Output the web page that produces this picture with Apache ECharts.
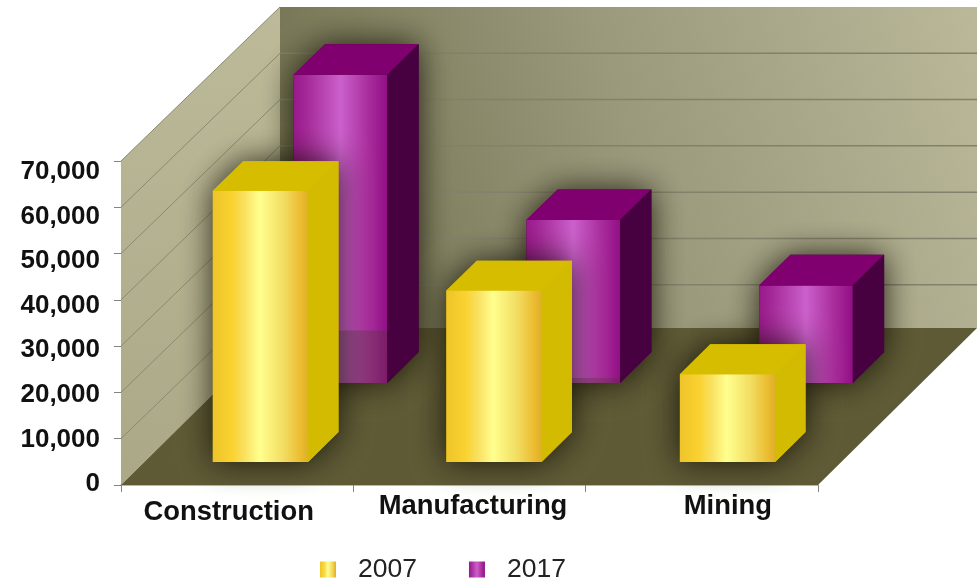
<!DOCTYPE html>
<html><head><meta charset="utf-8">
<style>html,body{margin:0;padding:0;background:#fff}#c{width:978px;height:582px}</style>
<script src="https://cdn.jsdelivr.net/npm/echarts@6/dist/echarts.min.js"></script>
</head><body><div id="c"></div>
<script>
const categories = ['Construction', 'Manufacturing', 'Mining'];
const values2007 = [58700, 37100, 19000];
const values2017 = [67000, 35400, 21200];
const yTicks = [0, 10000, 20000, 30000, 40000, 50000, 60000, 70000];

const DX = 159, DY0 = 157, DY1 = 154, GRID_DY = 154, YMAX = 70000;
const G = echarts.graphic;
const proj = (x, y, v, d) => [x + d * DX, y - d * (DY0 + (DY1 - DY0) * v / YMAX)];
const grad = stops => new G.LinearGradient(0, 0, 1, 0, stops.map(s => ({offset: s[0], color: s[1]})));

const yellowFront = grad([[0,'#eec42a'],[0.2,'#fad230'],[0.33,'#f9e060'],[0.49,'#ffff8e'],[0.75,'#f2dc60'],[0.92,'#ebbc30'],[1,'#dfb028']]);
const purpleFront = grad([[0,'#98198b'],[0.15,'#a52b99'],[0.5,'#cb60cc'],[0.78,'#ab309f'],[1,'#920f85']]);

function poly(points, fill, extra) {
  return {type: 'polygon', shape: {points}, style: Object.assign({fill}, extra || {})};
}

function wallsRender(params, api) {
  const c = params.coordSys, L = c.x, R = c.x + c.width;
  const y0 = api.coord([0, 0])[1], yT = api.coord([0, YMAX])[1];
  const kids = [
    poly([proj(L,y0,0,1), proj(R,y0,0,1), proj(R,yT,YMAX,1), proj(L,yT,YMAX,1)],
      new G.LinearGradient(0, 0.75, 1, 0.05, [{offset:0,color:'#706f4e'},{offset:0.5,color:'#9a997c'},{offset:1,color:'#bab899'}])),
    poly([[L,y0], proj(L,y0,0,1), proj(L,yT,YMAX,1), [L,yT]],
      new G.LinearGradient(0, 0, 0, 1, [{offset:0,color:'#bcba98'},{offset:1,color:'#aaa886'}])),
    poly([[L,y0],[R,y0], proj(R,y0,0,1), proj(L,y0,0,1)], '#5e5a36')
  ];
  yTicks.forEach(v => {
    if (v === 0) return;
    const y = api.coord([0, v])[1];
    const a = [L + DX, y - GRID_DY], b = [R + DX, y - GRID_DY];
    kids.push({type:'polyline', shape:{points:[[L,y],a]}, style:{stroke:'#8b8a70', lineWidth:1, fill:null}});
    if (v !== YMAX) kids.push({type:'polyline', shape:{points:[a,b]}, style:{stroke:'#82816a', lineWidth:1.5, fill:null}});
  });
  return {type:'group', children:kids};
}

function barRender(d0, d1, front, top, side, widthFrac, step, shade) {
  return function (params, api) {
    const i = api.value(0), v = api.value(1);
    const cx = api.coord([i, 0])[0] + i * step, w = api.size([1, 0])[0] * widthFrac;
    const yb = api.coord([i, 0])[1], yt = api.coord([i, v])[1];
    const xl = cx - w / 2, xr = cx + w / 2;
    const fbl = proj(xl,yb,0,d0), fbr = proj(xr,yb,0,d0), ftl = proj(xl,yt,v,d0), ftr = proj(xr,yt,v,d0);
    const bbr = proj(xr,yb,0,d1), btr = proj(xr,yt,v,d1), btl = proj(xl,yt,v,d1);
    const kids = [
      poly([fbl, fbr, bbr, btr, btl, ftl], side, {shadowBlur: 32, shadowColor: 'rgba(15,12,0,0.85)'}),
      poly([fbl, fbr, ftr, ftl], front),
      poly([ftl, ftr, btr, btl], top),
      poly([ftr, fbr, bbr, btr], side)
    ];
    const s = shade ? shade[i] : 0;
    if (s > 0) {
      const ys = api.coord([i, v * s])[1];
      const a = proj(xl,ys,v*s,d0), b = proj(xr,ys,v*s,d0);
      kids.push(poly([fbl, fbr, b, a], 'rgba(70,60,40,0.3)'));
    }
    return {type:'group', children:kids};
  };
}

const labelBase = {fontFamily:'Liberation Sans', fontWeight:'bold', color:'#111'};
const chart = echarts.init(document.getElementById('c'), null, {renderer:'canvas'});
chart.setOption({
  animation:false, backgroundColor:'#fff',
  legend:{
    left:315, top:551, itemWidth:16, itemHeight:16, itemGap:52, icon:'rect',
    textStyle:{fontFamily:'Liberation Sans', fontSize:26.5, color:'#222', padding:[0,0,0,17]},
    data:['2007','2017']
  },
  grid:[
    {left:121, right:160, top:161, bottom:97},
    {left:121, right:160, top:172, bottom:98}
  ],
  xAxis:[
    {type:'category', gridIndex:0, data:[
        {value:categories[0], textStyle:{padding:[6,17,0,0]}},
        {value:categories[1], textStyle:{padding:[0,0,0,7]}},
        {value:categories[2], textStyle:{padding:[0,0,0,52]}}
      ],
      axisLine:{lineStyle:{color:'#a09d90', width:1.5}},
      axisTick:{show:true, length:7, lineStyle:{color:'#85837a'}},
      axisLabel:Object.assign({fontSize:27.4, margin:8, interval:0, hideOverlap:false}, labelBase),
      splitLine:{show:false}
    },
    {type:'category', gridIndex:1, data:categories, show:false}
  ],
  yAxis:[
    {type:'value', gridIndex:0, min:0, max:YMAX, interval:10000,
      axisLine:{show:false}, axisTick:{show:true, length:7, lineStyle:{color:'#85837a'}},
      axisLabel:{show:false}, splitLine:{show:false}},
    {type:'value', gridIndex:1, min:0, max:YMAX, interval:10000,
      axisLine:{show:false}, axisTick:{show:false}, splitLine:{show:false},
      axisLabel:Object.assign({fontSize:26, margin:21, formatter:v => v.toLocaleString('en-US')}, labelBase)}
  ],
  series:[
    {type:'custom', name:'walls', xAxisIndex:0, yAxisIndex:0, z:1, silent:true, clip:false, data:[[0,0]], renderItem:wallsRender},
    {type:'custom', name:'2017', xAxisIndex:0, yAxisIndex:0, z:2, clip:false, itemStyle:{color:purpleFront},
      data:values2017.map((v,i)=>[i,v]), renderItem:barRender(0.65,0.847,purpleFront,'#80006f','#470040',0.403,0.4,[0.17,0.03,0])},
    {type:'custom', name:'2007', xAxisIndex:0, yAxisIndex:0, z:3, clip:false, itemStyle:{color:yellowFront},
      data:values2007.map((v,i)=>[i,v]), renderItem:barRender(0.1465,0.3376,yellowFront,'#d6bd00','#d2bb00',0.41,1.2)}
  ]
});
</script></body></html>
